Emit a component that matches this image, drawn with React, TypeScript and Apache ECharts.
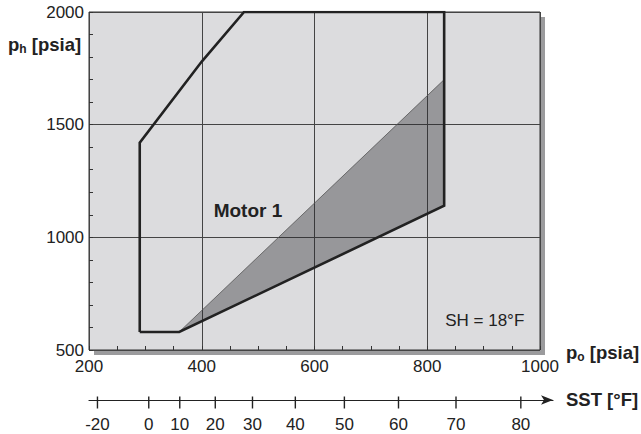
import React, { useEffect, useRef } from "react";
import * as echarts from "echarts";

// Suction pressure axis (p_o) ticks and discharge pressure axis (p_h)
const poTicks = [200, 400, 600, 800, 1000];
const phTicks = [500, 1000, 1500, 2000];

// Motor 1 envelope (p_o [psia], p_h [psia])
const envelopePo = [290, 290, 400, 475, 830, 830, 360, 290];
const envelopePh = [580, 1420, 1780, 2000, 2000, 1140, 580, 580];

// Shaded region (SH = 18°F limit)
const shadedPo = [360, 830, 830];
const shadedPh = [580, 1700, 1140];

// Saturated suction temperature scale: SST [°F] and matching p_o [psia]
const sstLabels = [-20, 0, 10, 20, 30, 40, 50, 60, 70, 80];
const sstPo = [215, 306, 361, 424, 490, 566, 653, 749, 851, 966];

const FONT = "Liberation Sans, Arial, Helvetica, sans-serif";

export default function App() {
  const ref = useRef<HTMLDivElement>(null);
  useEffect(() => {
    document.body.style.margin = "0";
    const chart = echarts.init(ref.current!, null, { renderer: "svg" });
    const envelope = envelopePo.map((x, i) => [x, envelopePh[i]]);
    const sstWidth = 464;
    const option: any = {
      animation: false,
      backgroundColor: "#ffffff",
      textStyle: { fontFamily: FONT },
      grid: [
        {
          left: 89,
          top: 12,
          width: 451,
          height: 338,
          show: true,
          backgroundColor: "#dcdcde",
          borderColor: "#333333",
          borderWidth: 1,
        },
        { left: 89, top: 399, width: sstWidth, height: 1, show: false },
      ],
      xAxis: [
        {
          gridIndex: 0,
          type: "value",
          min: poTicks[0],
          max: poTicks[poTicks.length - 1],
          interval: 200,
          axisLine: { show: false },
          axisTick: { show: true, inside: true, length: 4, lineStyle: { color: "#333" } },
          minorTick: { show: true, splitNumber: 4, length: 4, lineStyle: { color: "#333" } },
          splitLine: { show: true, lineStyle: { color: "#444", width: 1 } },
          axisLabel: { color: "#222", fontSize: 17, margin: 8, fontFamily: FONT, formatter: (v: number) => String(v) },
        },
        {
          gridIndex: 1,
          type: "value",
          min: 200,
          max: 200 + (sstWidth * 800) / 451,
          axisLine: {
            show: true,
            onZero: false,
            symbol: ["none", "arrow"],
            symbolSize: [7, 12],
            lineStyle: { color: "#222", width: 1.2 },
          },
          axisTick: { show: false },
          axisLabel: { show: false },
          splitLine: { show: false },
        },
      ],
      yAxis: [
        {
          gridIndex: 0,
          type: "value",
          min: phTicks[0],
          max: phTicks[phTicks.length - 1],
          interval: 500,
          axisLine: { show: false },
          axisTick: { show: true, inside: true, length: 4, lineStyle: { color: "#333" } },
          minorTick: { show: true, splitNumber: 5, length: 4, lineStyle: { color: "#333" } },
          splitLine: { show: true, lineStyle: { color: "#444", width: 1 } },
          axisLabel: { color: "#222", fontSize: 17, margin: 5, fontFamily: FONT, formatter: (v: number) => String(v) },
        },
        { gridIndex: 1, type: "value", min: 0, max: 1, show: false },
      ],
      graphic: [
        {
          type: "rect",
          z: -10,
          shape: { x: 94, y: 17, width: 451, height: 338 },
          style: { fill: "#9b9b9d" },
        },
        {
          type: "text",
          left: 8,
          top: 35,
          style: {
            text: "{a|p}{b|h}{a| [psia]}",
            fontFamily: FONT,
            rich: {
              a: { fontSize: 18.5, fontWeight: "bold", fill: "#222", fontFamily: FONT },
              b: { fontSize: 12, fontWeight: "bold", fill: "#222", fontFamily: FONT, padding: [8, 0, 0, 0] },
            },
          },
        },
        {
          type: "text",
          left: 566,
          top: 343,
          style: {
            text: "{a|p}{b|o}{a| [psia]}",
            fontFamily: FONT,
            rich: {
              a: { fontSize: 18.5, fontWeight: "bold", fill: "#222", fontFamily: FONT },
              b: { fontSize: 12, fontWeight: "bold", fill: "#222", fontFamily: FONT, padding: [8, 0, 0, 0] },
            },
          },
        },
        {
          type: "text",
          left: 566,
          top: 390,
          style: {
            text: "SST [°F]",
            fontSize: 18.5,
            fontWeight: "bold",
            fill: "#222",
            fontFamily: FONT,
          },
        },
      ],
      series: [
        {
          type: "custom",
          xAxisIndex: 0,
          yAxisIndex: 0,
          z: 3,
          data: [0],
          renderItem: (_params: any, api: any) => {
            const pts = shadedPo.map((x, i) => api.coord([x, shadedPh[i]]));
            return {
              type: "polygon",
              shape: { points: pts },
              style: { fill: "rgba(40,40,44,0.38)", stroke: "#555", lineWidth: 0.8 },
            };
          },
        },
        {
          type: "line",
          xAxisIndex: 0,
          yAxisIndex: 0,
          z: 5,
          data: envelope,
          symbol: "none",
          lineStyle: { color: "#222", width: 2.6, join: "miter" },
        },
        {
          type: "scatter",
          xAxisIndex: 0,
          yAxisIndex: 0,
          z: 6,
          symbolSize: 0,
          itemStyle: { opacity: 1, color: "#222" },
          data: [
            { value: [482, 1121], label: { formatter: "Motor 1", fontWeight: "bold", fontSize: 19 } },
            { value: [902, 633], label: { formatter: "SH = 18°F" } },
          ],
          label: {
            show: true,
            position: "inside",
            fontSize: 17,
            color: "#222",
            textBorderWidth: 0,
            fontFamily: FONT,
          },
        },
        {
          type: "scatter",
          xAxisIndex: 1,
          yAxisIndex: 1,
          z: 6,
          symbol: "rect",
          symbolSize: [1.4, 12],
          symbolOffset: [0, 2.5],
          itemStyle: { color: "#222", opacity: 1 },
          data: sstPo.map((p, i) => ({ value: [p, 0], name: String(sstLabels[i]) })),
          label: {
            show: true,
            position: "bottom",
            distance: 7,
            formatter: (p: any) => p.name,
            fontSize: 17,
            color: "#222",
            fontFamily: FONT,
          },
        },
      ],
    };
    chart.setOption(option);
    return () => chart.dispose();
  }, []);
  return <div ref={ref} style={{ width: 641, height: 434 }} />;
}
